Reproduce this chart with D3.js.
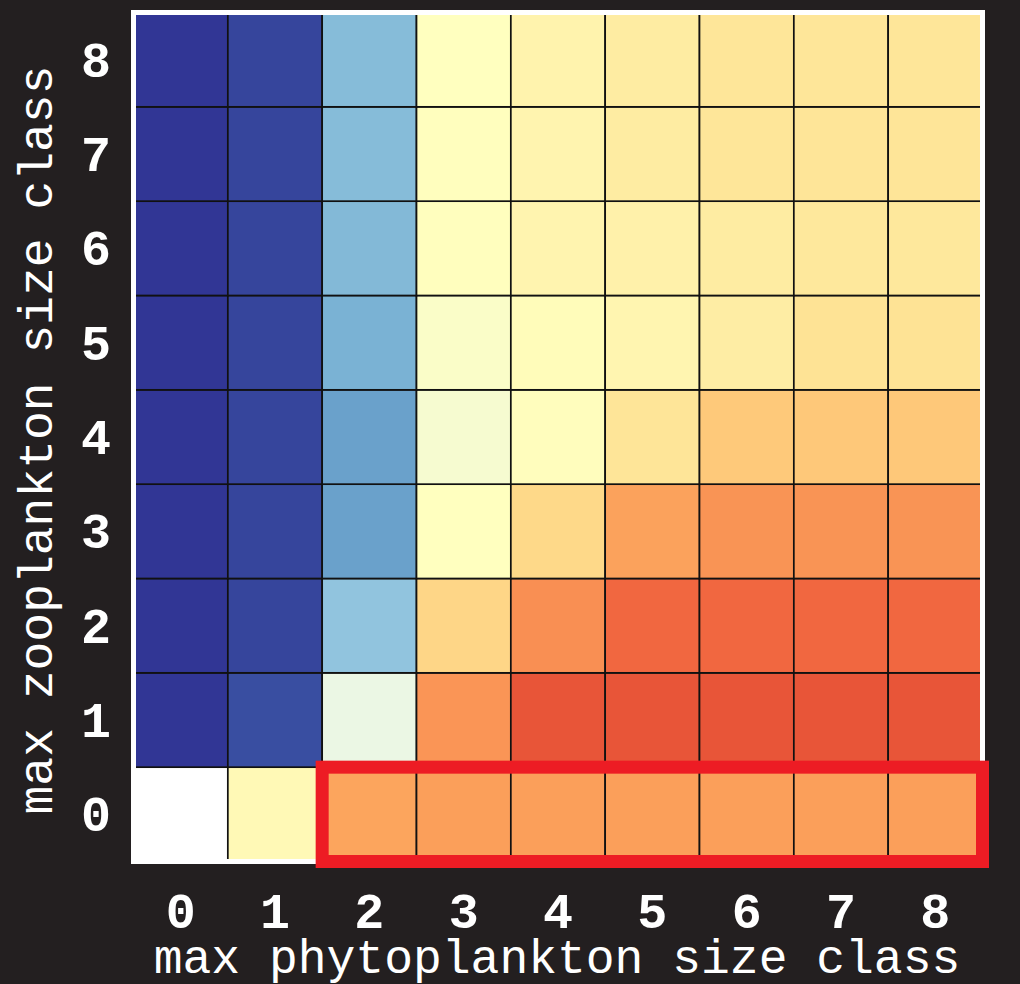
<!DOCTYPE html>
<html>
<head>
<meta charset="utf-8">
<script src="https://cdn.jsdelivr.net/npm/d3@7"></script>
<style>
  html, body { margin: 0; padding: 0; background: #231f20; }
  svg { display: block; }
</style>
</head>
<body>
<div class="container"></div>
<script>
// size classes on both axes
const phytoClasses = ['0', '1', '2', '3', '4', '5', '6', '7', '8'];
const zooClasses = ['0', '1', '2', '3', '4', '5', '6', '7', '8'];

// cell values (0 = blue end, 1 = red end), one array per zooplankton class, by phytoplankton class
const zoo0 = [null, 0.519, 0.714, 0.723, 0.723, 0.723, 0.723, 0.723, 0.723];
const zoo1 = [0.0, 0.038, 0.435, 0.738, 0.84, 0.84, 0.84, 0.84, 0.84];
const zoo2 = [0.0, 0.024, 0.253, 0.62, 0.748, 0.81, 0.81, 0.81, 0.81];
const zoo3 = [0.0, 0.024, 0.179, 0.5, 0.614, 0.718, 0.74, 0.74, 0.74];
const zoo4 = [0.0, 0.024, 0.179, 0.47, 0.505, 0.584, 0.646, 0.648, 0.648];
const zoo5 = [0.0, 0.024, 0.211, 0.484, 0.51, 0.532, 0.558, 0.59, 0.59];
const zoo6 = [0.0, 0.024, 0.227, 0.502, 0.535, 0.545, 0.561, 0.574, 0.574];
const zoo7 = [0.0, 0.024, 0.233, 0.502, 0.535, 0.561, 0.581, 0.584, 0.584];
const zoo8 = [0.0, 0.024, 0.233, 0.5, 0.539, 0.561, 0.581, 0.581, 0.581];

// highlighted block: zooplankton class 0, phytoplankton classes 2..8
const highlightZoo = '0';
const highlightPhyto = ['2', '8'];

const renderHeatmap = () => {
  const width = 1020;
  const height = 984;
  const left = 133.5;
  const top = 12.5;
  const size = 849;
  const mono = "'Liberation Mono', 'DejaVu Sans Mono', monospace";

  const rows = [zoo0, zoo1, zoo2, zoo3, zoo4, zoo5, zoo6, zoo7, zoo8];
  const cells = [];
  rows.forEach((row, zi) => {
    row.forEach((v, pi) => cells.push({ zoo: zooClasses[zi], phyto: phytoClasses[pi], value: v }));
  });

  const svg = d3.select('.container').append('svg').attr('width', width).attr('height', height);

  //scales
  const xScale = d3.scaleBand().domain(phytoClasses).range([left, left + size]);
  const yScale = d3.scaleBand().domain(zooClasses).range([top + size, top]);

  // RdYlBu reversed, linear between the 11 stops
  const stops = ['#313695', '#4575b4', '#74add1', '#abd9e9', '#e0f3f8', '#ffffbf',
    '#fee090', '#fdae61', '#f46d43', '#d73027', '#a50026'];
  const color = d3.scaleLinear()
    .domain(d3.range(stops.length).map(i => i / (stops.length - 1)))
    .range(stops)
    .interpolate(d3.interpolateRgb);

  //cells
  svg.append('g').attr('class', 'cells')
    .selectAll('rect')
    .data(cells)
    .join('rect')
    .attr('x', d => xScale(d.phyto))
    .attr('y', d => yScale(d.zoo))
    .attr('width', xScale.bandwidth())
    .attr('height', yScale.bandwidth())
    .attr('fill', d => (d.value === null ? '#ffffff' : color(d.value)))
    .attr('stroke', '#111')
    .attr('stroke-width', 1.7);

  //white frame
  svg.append('rect')
    .attr('x', left)
    .attr('y', top)
    .attr('width', size)
    .attr('height', size)
    .attr('fill', 'none')
    .attr('stroke', '#ffffff')
    .attr('stroke-width', 5);

  //red highlight box
  const hx0 = xScale(highlightPhyto[0]);
  const hx1 = xScale(highlightPhyto[1]) + xScale.bandwidth();
  svg.append('rect')
    .attr('x', hx0)
    .attr('y', yScale(highlightZoo))
    .attr('width', hx1 - hx0)
    .attr('height', yScale.bandwidth())
    .attr('fill', 'none')
    .attr('stroke', '#ed1c24')
    .attr('stroke-width', 13);

  //axes
  const bottomAxisGroup = svg.append('g').attr('class', 'bottom-axis').attr('transform', 'translate(0,892)');
  bottomAxisGroup.call(d3.axisBottom(xScale).tickSize(0).tickPadding(0));
  const leftAxisGroup = svg.append('g').attr('class', 'left-axis').attr('transform', 'translate(111,0)');
  leftAxisGroup.call(d3.axisLeft(yScale).tickSize(0).tickPadding(0));

  svg.selectAll('.domain').remove();
  svg.selectAll('.bottom-axis text, .left-axis text')
    .attr('fill', '#ffffff')
    .style('font-family', mono)
    .style('font-weight', 'bold')
    .style('font-size', '50px');
  bottomAxisGroup.selectAll('text').attr('dy', '0.71em');
  leftAxisGroup.selectAll('text').attr('dy', '0.34em');

  //labels
  svg.append('text')
    .text('max phytoplankton size class')
    .attr('x', 557)
    .attr('y', 973)
    .attr('text-anchor', 'middle')
    .attr('fill', '#ffffff')
    .style('font-family', mono)
    .style('font-size', '48px');

  svg.append('text')
    .text('max zooplankton size class')
    .attr('transform', 'translate(52,440) rotate(-90)')
    .attr('text-anchor', 'middle')
    .attr('fill', '#ffffff')
    .style('font-family', mono)
    .style('font-size', '48px');
};

renderHeatmap();
</script>
</body>
</html>
